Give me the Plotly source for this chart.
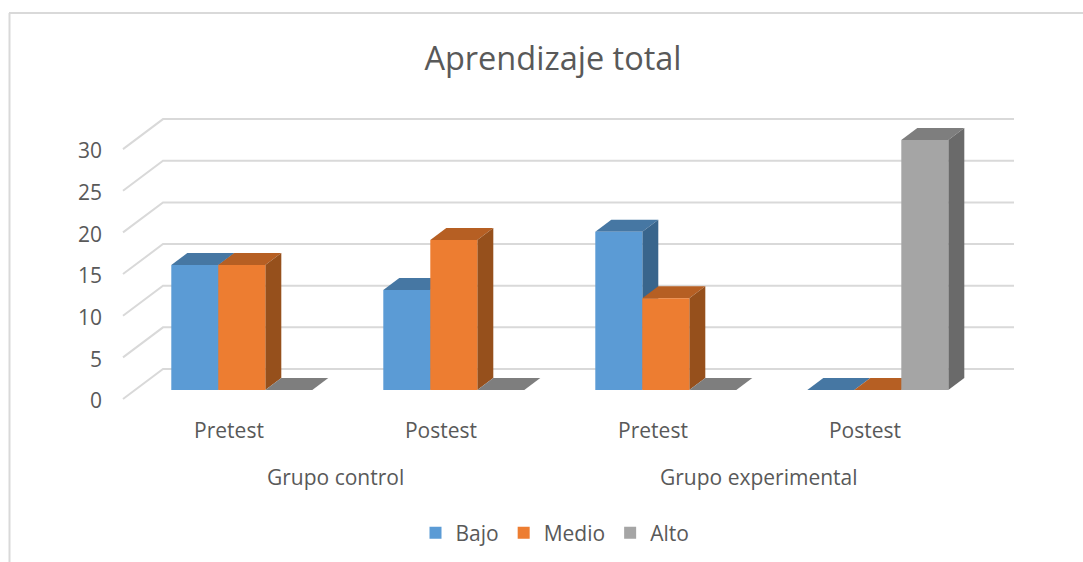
import plotly.graph_objects as go

# data
slots = ['Pretest', 'Postest', 'Pretest', 'Postest']
groups = ['Grupo control', 'Grupo experimental']
bajo = [15, 12, 19, 0]
medio = [15, 18, 11, 0]
alto = [0, 0, 0, 30]
y_ticks = [0, 5, 10, 15, 20, 25, 30]

W, H = 1083, 562
L, R, T, B = 103, 1040, 100, 416

# axis scales: one slot is 212px, one value unit is 8.33px, slot 0 starts at x=123, value 0 at y=390
SLOT_PX = 212
UNIT_PX = 8.33
x_range = [(L - 123) / SLOT_PX, (R - 123) / SLOT_PX]
y_range = [(390 - B) / UNIT_PX, (390 - T) / UNIT_PX]

BAR_START = 48.3 / SLOT_PX
BAR_W = 47 / SLOT_PX
BAR_DX = 16 / SLOT_PX
BAR_DY = 12 / UNIT_PX
WALL_DX = 40 / SLOT_PX
WALL_RIGHT = 891 / SLOT_PX
FRONT_Y = -9 / UNIT_PX
BACK_Y = 21 / UNIT_PX
LABEL_Y = -11 / UNIT_PX  # tick labels sit a little below the wall lines

series = [
    ('Bajo', bajo, '#5B9BD5', '#4677A3', '#39658C'),
    ('Medio', medio, '#ED7D31', '#B65F23', '#96501C'),
    ('Alto', alto, '#A5A5A5', '#7E7E7E', '#6A6A6A'),
]

fig = go.Figure()


def add_poly(xs, ys, color):
    fig.add_trace(go.Scatter(
        x=xs, y=ys, mode='lines', fill='toself', fillcolor=color,
        line=dict(width=0), showlegend=False, hoverinfo='skip',
    ))


# back wall and left wall grid
for v in y_ticks:
    fig.add_trace(go.Scatter(
        x=[0, WALL_DX, WALL_RIGHT],
        y=[v + FRONT_Y, v + BACK_Y, v + BACK_Y],
        mode='lines', line=dict(color='#D9D9D9', width=2),
        showlegend=False, hoverinfo='skip',
    ))

# tops and sides go on the lower axes, front faces on the overlaid ones
for s, (name, values, front, top, side) in enumerate(series):
    for i, v in enumerate(values):
        x0 = i + BAR_START + s * BAR_W
        x1 = x0 + BAR_W
        add_poly([x0, x1, x1 + BAR_DX, x0 + BAR_DX, x0],
                 [v, v, v + BAR_DY, v + BAR_DY, v], top)
        if v > 0:
            add_poly([x1, x1 + BAR_DX, x1 + BAR_DX, x1, x1],
                     [0, BAR_DY, v + BAR_DY, v, 0], side)

for s, (name, values, front, top, side) in enumerate(series):
    fig.add_trace(go.Bar(
        x=[i + BAR_START + (s + 0.5) * BAR_W for i in range(len(values))],
        y=values,
        width=BAR_W,
        name=name,
        marker=dict(color=front, line=dict(width=0)),
        xaxis='x2', yaxis='y2',
    ))


def px_x(p):
    return (p - L) / (R - L)


def px_y(p):
    return (B - p) / (B - T)


for g, label in enumerate(groups):
    fig.add_annotation(
        x=2 * g + 1, xref='x', y=px_y(477), yref='paper',
        text=label, showarrow=False, font=dict(size=21),
        xanchor='center', yanchor='middle',
    )

# chart frame, cropped on the right and bottom
fig.add_shape(type='line', xref='paper', yref='paper',
              x0=px_x(9.5), x1=px_x(9.5), y0=px_y(13), y1=px_y(562),
              line=dict(color='#D9D9D9', width=2))
fig.add_shape(type='line', xref='paper', yref='paper',
              x0=px_x(9), x1=px_x(1083), y0=px_y(13), y1=px_y(13),
              line=dict(color='#D9D9D9', width=2))

fig.update_layout(
    width=W, height=H,
    margin=dict(l=L, r=W - R, t=T, b=H - B),
    paper_bgcolor='white',
    plot_bgcolor='rgba(0,0,0,0)',
    font=dict(family='Open Sans', size=21, color='#595959'),
    title=dict(text='Aprendizaje total', x=553 / W, xanchor='center',
               y=1 - 59 / H, yanchor='middle', font=dict(size=32.5)),
    barmode='overlay',
    showlegend=True,
    legend=dict(orientation='h', x=555 / W, xanchor='center', xref='container',
                y=1 - 533 / H, yanchor='middle', yref='container',
                traceorder='normal', font=dict(size=21)),
    xaxis=dict(range=x_range, tickmode='array',
               tickvals=[i + 0.5 for i in range(len(slots))], ticktext=slots,
               showgrid=False, zeroline=False, showline=False, ticks='', fixedrange=True),
    yaxis=dict(range=y_range, tickmode='array',
               tickvals=[v + LABEL_Y for v in y_ticks], ticktext=[str(v) for v in y_ticks],
               showgrid=False, zeroline=False, showline=False, ticks='', fixedrange=True),
    xaxis2=dict(range=x_range, overlaying='x', visible=False, fixedrange=True),
    yaxis2=dict(range=y_range, overlaying='y', visible=False, fixedrange=True),
)

fig.write_html("out.html", config=dict(displayModeBar=False),
               post_script="document.body.style.margin='0';")
